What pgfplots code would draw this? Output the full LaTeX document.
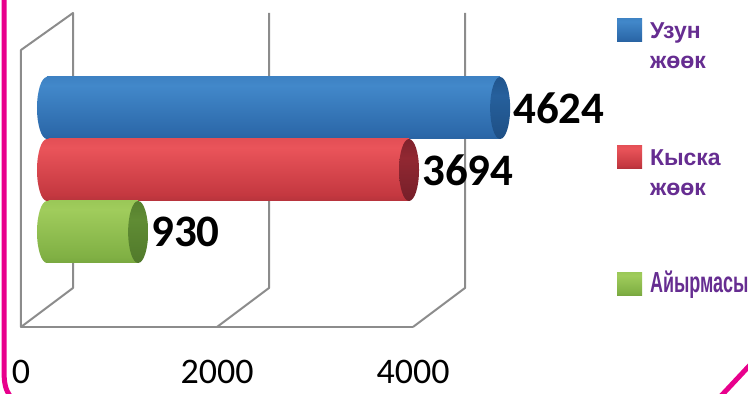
\documentclass[border=0pt]{standalone}
\usepackage{pgfplots}
\usepackage{pgfplotstable}
\pgfplotsset{compat=1.18}
\usepackage{fontspec}
\setmainfont{Liberation Sans}
\newfontfamily\calib{Carlito}
\newfontfamily\legf{Liberation Sans}
\newfontfamily\legn[FakeStretch=0.62]{Liberation Sans}

\definecolor{legpurple}{RGB}{102,45,145}
\definecolor{framegray}{RGB}{140,140,140}
\definecolor{magC}{RGB}{232,0,140}
% body colours
\definecolor{bbot}{RGB}{28,74,128}\definecolor{bmid}{RGB}{44,105,170}\definecolor{blite}{RGB}{66,136,202}\definecolor{btop}{RGB}{46,108,172}
\definecolor{rbot}{RGB}{112,28,40}\definecolor{rmid}{RGB}{196,56,64}\definecolor{rlite}{RGB}{234,84,90}\definecolor{rtop}{RGB}{204,62,70}
\definecolor{gbot}{RGB}{84,124,42}\definecolor{gmid}{RGB}{128,176,68}\definecolor{glite}{RGB}{160,204,92}\definecolor{gtop}{RGB}{134,184,72}
% cap colours
\definecolor{bc1}{RGB}{24,66,116}\definecolor{bc2}{RGB}{38,96,156}
\definecolor{rc1}{RGB}{96,24,34}\definecolor{rc2}{RGB}{146,40,50}
\definecolor{gc1}{RGB}{70,108,36}\definecolor{gc2}{RGB}{96,140,52}
% legend colours
\definecolor{legB}{RGB}{46,116,184}\definecolor{legR}{RGB}{210,64,66}\definecolor{legG}{RGB}{141,196,78}

\pgfdeclareverticalshading{bluebody}{100bp}{color(0bp)=(bbot); color(30bp)=(bmid); color(68bp)=(blite); color(100bp)=(btop)}
\pgfdeclareverticalshading{redbody}{100bp}{color(0bp)=(rbot); color(30bp)=(rmid); color(68bp)=(rlite); color(100bp)=(rtop)}
\pgfdeclareverticalshading{greenbody}{100bp}{color(0bp)=(gbot); color(30bp)=(gmid); color(68bp)=(glite); color(100bp)=(gtop)}
\pgfdeclareverticalshading{bluecap}{100bp}{color(0bp)=(bc1); color(60bp)=(bc2); color(100bp)=(bc1)}
\pgfdeclareverticalshading{redcap}{100bp}{color(0bp)=(rc1); color(60bp)=(rc2); color(100bp)=(rc1)}
\pgfdeclareverticalshading{greencap}{100bp}{color(0bp)=(gc1); color(60bp)=(gc2); color(100bp)=(gc1)}

\newcommand\capmark[2]{%
  \pgfdeclareplotmark{#1}{%
    \pgfpathellipse{\pgfpointorigin}{\pgfqpoint{10pt}{0pt}}{\pgfqpoint{0pt}{31pt}}%
    \pgfshadepath{#2}{0}\pgfusepath{}}}
\capmark{capBR}{bluecap}\capmark{capBL}{bluebody}
\capmark{capRR}{redcap}\capmark{capRL}{redbody}
\capmark{capGR}{greencap}\capmark{capGL}{greenbody}

% value, vertical position of the bar (pt)
\pgfplotstableread{
v y
4624 286
}\tblue
\pgfplotstableread{
v y
3694 224
}\tred
\pgfplotstableread{
v y
930 162
}\tgreen

\begin{document}
\begin{tikzpicture}
\begin{axis}[
  at={(0,0)}, anchor=south west,
  x=0.098pt, y=1pt,
  xmin=-479.59, xmax=7153.06, ymin=0, ymax=394,
  clip=false,
  axis line style={draw=none}, major tick length=0pt, ytick=\empty,
  xtick={0,2000,4000}, xticklabels={0,2000,4000},
  xticklabel style={font=\calib\fontsize{36}{40}\selectfont, anchor=base, xshift=-26pt, yshift=10pt, inner sep=0pt},
  legend style={draw=none, fill=none, at={(0.8249,0.9543)}, anchor=north west,
    inner sep=0pt, outer sep=0pt, column sep=8pt, row sep=0pt,
    cells={anchor=base west},
    nodes={inner sep=0pt, text height=20pt, text depth=107pt, text=legpurple,
      font=\legf\bfseries\fontsize{23}{30}\selectfont}},
  every axis plot/.append style={bar width=62pt, bar shift=0pt},
  nodes near coords={\pgfmathprintnumber[assume math mode=true,1000 sep={}]{\pgfplotspointmeta}},
  nodes near coords style={font=\calib\bfseries\fontsize{45}{50}\selectfont, text=black, anchor=west, xshift=13pt, inner sep=0pt},
]
% 3D frame
\draw[framegray, line width=2pt, line join=round]
  ([xshift=-26pt]axis cs:0,67) -- ([xshift=-26pt]axis cs:0,344) -- ([xshift=26pt]axis cs:0,381)
  -- ([xshift=26pt]axis cs:0,106) -- cycle;
\draw[framegray, line width=2pt] ([xshift=-26pt]axis cs:0,67) -- ([xshift=-26pt]axis cs:4000,67);
\draw[framegray, line width=2pt, line join=round]
  ([xshift=26pt]axis cs:2000,381) -- ([xshift=26pt]axis cs:2000,106) -- ([xshift=-26pt]axis cs:2000,67);
\draw[framegray, line width=2pt, line join=round]
  ([xshift=26pt]axis cs:4000,381) -- ([xshift=26pt]axis cs:4000,106) -- ([xshift=-26pt]axis cs:4000,67);

% blue
\addplot[forget plot, only marks, mark=capBL, nodes near coords={}] table[x expr=0, y=y] {\tblue};
\addplot[xbar, draw=none, shade, shading=bluebody, point meta=x,
  legend image code/.code={\fill[legB] (0pt,-3pt) rectangle (25pt,20pt);}] table[x=v, y=y] {\tblue};
\addlegendentry{\begin{tabular}[t]{@{}l@{}}\bfseries Узун\\\bfseries жөөк\end{tabular}}
\addplot[forget plot, only marks, mark=capBR, nodes near coords={}] table[x=v, y=y] {\tblue};
% red
\addplot[forget plot, only marks, mark=capRL, nodes near coords={}] table[x expr=0, y=y] {\tred};
\addplot[xbar, draw=none, shade, shading=redbody, point meta=x,
  legend image code/.code={\fill[legR] (0pt,-3pt) rectangle (25pt,20pt);}] table[x=v, y=y] {\tred};
\addlegendentry{\begin{tabular}[t]{@{}l@{}}\bfseries Кыска\\\bfseries жөөк\end{tabular}}
\addplot[forget plot, only marks, mark=capRR, nodes near coords={}] table[x=v, y=y] {\tred};
% green
\addplot[forget plot, only marks, mark=capGL, nodes near coords={}] table[x expr=0, y=y] {\tgreen};
\addplot[xbar, draw=none, shade, shading=greenbody, point meta=x,
  legend image code/.code={\fill[legG] (0pt,-3pt) rectangle (25pt,20pt);}] table[x=v, y=y] {\tgreen};
\addlegendentry{\legn\bfseries\fontsize{29}{30}\selectfont Айырмасы}
\addplot[forget plot, only marks, mark=capGR, nodes near coords={}] table[x=v, y=y] {\tgreen};
\end{axis}
% page frame (decoration)
\draw[magC, line width=5pt] (4pt,394pt) -- (4pt,24pt) .. controls (4pt,9pt) and (6pt,4pt) .. (10pt,-2pt);
\draw[magC, line width=5pt] (721pt,-2pt) -- (750pt,29pt);
\pgfresetboundingbox
\path (0,0) rectangle (748pt,394pt);
\end{tikzpicture}
\end{document}
